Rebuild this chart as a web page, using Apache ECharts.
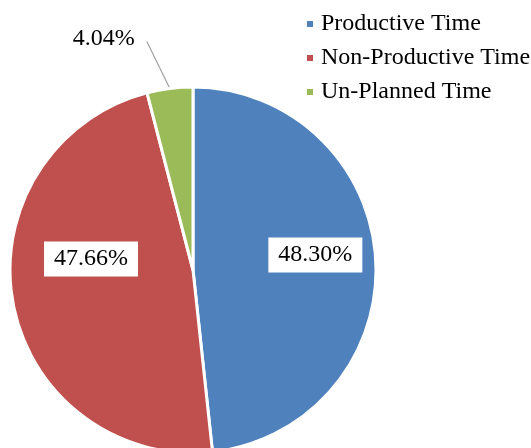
<!DOCTYPE html>
<html>
<head>
<meta charset="utf-8">
<script src="https://cdn.jsdelivr.net/npm/echarts@6/dist/echarts.min.js"></script>
<style>html,body{margin:0;padding:0;background:#fff}#c{width:531px;height:448px}</style>
</head>
<body>
<div id="c"></div>
<script>
var categories = ['Productive Time', 'Non-Productive Time', 'Un-Planned Time'];
var values = [48.30, 47.66, 4.04];
var colors = ['#4F81BD', '#C0504D', '#9BBB59'];
var labelOffsets = [[28, -10], [-9, -28], [0, 0]];

var chart = echarts.init(document.getElementById('c'), null, {renderer: 'canvas'});
var font = '"Liberation Serif", "Times New Roman", serif';
var data = categories.map(function (name, i) {
  var item = {name: name, value: values[i], itemStyle: {color: colors[i]}};
  if (i < 2) {
    item.label = {position: 'inside', offset: labelOffsets[i], backgroundColor: '#fff', padding: [6, 10, 5, 10]};
    item.labelLine = {show: false};
  } else {
    item.label = {position: 'outside'};
    item.labelLine = {show: true, length: 20, length2: 0, lineStyle: {color: '#A6A6A6', width: 1.3}};
  }
  return item;
});
chart.setOption({
  animation: false,
  legend: {
    orient: 'vertical', left: 300, top: 7,
    itemWidth: 8, itemHeight: 8, itemGap: 10,
    icon: 'rect',
    textStyle: {fontFamily: font, fontSize: 24, color: '#000', padding: [0, 0, 0, 2]},
    data: categories
  },
  series: [{
    type: 'pie',
    center: [193, 270],
    radius: [0, 183],
    startAngle: 90,
    clockwise: true,
    avoidLabelOverlap: false,
    itemStyle: {borderColor: '#fff', borderWidth: 3},
    label: {
      formatter: function (p) { return p.value.toFixed(2) + '%'; },
      fontFamily: font, fontSize: 24, color: '#000'
    },
    labelLayout: function (p) {
      if (p.dataIndex === 2 && p.labelLinePoints) {
        var e = p.labelLinePoints[0];
        return {x: e[0] - 66, y: e[1] - 50, align: 'center', verticalAlign: 'middle',
          labelLinePoints: [[e[0], e[1]], [e[0] - 23, e[1] - 47], [e[0] - 23, e[1] - 47]]};
      }
      return {};
    },
    emphasis: {disabled: true},
    data: data
  }]
});
</script>
</body>
</html>
